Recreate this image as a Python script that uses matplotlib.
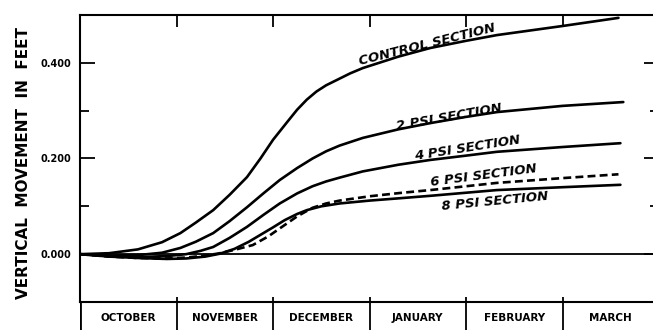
import matplotlib
matplotlib.use("Agg")
import matplotlib.pyplot as plt
from matplotlib.ticker import MultipleLocator, FixedLocator

# Months shown along the bottom band (x is measured in months from Oct 1)
months = ["OCTOBER", "NOVEMBER", "DECEMBER", "JANUARY", "FEBRUARY", "MARCH"]

# Vertical movement (ft) read at points along each section's curve
control_x = [0.0, 0.3, 0.6, 0.85, 1.04, 1.2, 1.38, 1.55, 1.73, 1.87, 2.0, 2.15, 2.25, 2.35,
             2.45, 2.55, 2.69, 2.8, 2.93, 3.3, 3.63, 4.0, 4.32, 5.0, 5.58]
control_y = [0.0, 0.002, 0.010, 0.025, 0.044, 0.066, 0.092, 0.124, 0.161, 0.200, 0.239, 0.277,
             0.302, 0.323, 0.340, 0.353, 0.367, 0.378, 0.389, 0.413, 0.431, 0.446, 0.458,
             0.477, 0.494]

psi2_x = [0.0, 0.3, 0.6, 0.85, 1.04, 1.2, 1.38, 1.55, 1.73, 1.9, 2.07, 2.25, 2.41, 2.55, 2.69,
          2.93, 3.3, 3.63, 4.0, 4.32, 5.0, 5.63]
psi2_y = [0.0, -0.003, -0.002, 0.003, 0.013, 0.026, 0.044, 0.069, 0.098, 0.127, 0.155, 0.180,
          0.200, 0.215, 0.227, 0.243, 0.261, 0.274, 0.287, 0.297, 0.310, 0.318]

psi4_x = [0.0, 0.3, 0.6, 0.9, 1.1, 1.25, 1.38, 1.55, 1.73, 1.9, 2.07, 2.25, 2.41, 2.55, 2.69,
          2.93, 3.3, 3.63, 4.0, 4.32, 5.0, 5.6]
psi4_y = [0.0, -0.004, -0.006, -0.004, 0.000, 0.007, 0.015, 0.034, 0.057, 0.082, 0.106, 0.127,
          0.142, 0.152, 0.160, 0.173, 0.187, 0.197, 0.206, 0.214, 0.224, 0.232]

psi6_x = [0.0, 0.3, 0.6, 0.9, 1.1, 1.3, 1.45, 1.6, 1.79, 1.95, 2.1, 2.25, 2.41, 2.55, 2.69,
          3.0, 3.32, 3.63, 4.0, 4.32, 5.0, 5.58]
psi6_y = [0.0, -0.005, -0.008, -0.009, -0.007, -0.003, 0.002, 0.009, 0.019, 0.037, 0.058,
          0.079, 0.097, 0.106, 0.112, 0.121, 0.128, 0.134, 0.142, 0.149, 0.159, 0.167]

psi8_x = [0.0, 0.3, 0.6, 0.9, 1.1, 1.3, 1.45, 1.6, 1.75, 1.9, 2.0, 2.12, 2.25, 2.35, 2.5,
          2.69, 3.0, 3.32, 3.63, 4.32, 5.0, 5.6]
psi8_y = [0.0, -0.005, -0.008, -0.010, -0.009, -0.005, 0.001, 0.011, 0.026, 0.044, 0.056,
          0.071, 0.084, 0.092, 0.100, 0.106, 0.112, 0.117, 0.122, 0.134, 0.140, 0.145]

# Curve labels: (text, x, y, rotation)
labels = [
    ("CONTROL SECTION", 3.6, 0.437, 14),
    ("2 PSI SECTION", 3.83, 0.287, 10),
    ("4 PSI SECTION", 4.01, 0.222, 9),
    ("6 PSI SECTION", 4.18, 0.165, 7.5),
    ("8 PSI SECTION", 4.3, 0.111, 5.5),
]

W, H = 653, 330
fig = plt.figure(figsize=(W / 100, H / 100), dpi=100)

left_px, right_px, top_px, bottom_px = 80, 659, 15, 302
ax = fig.add_axes([left_px / W, (H - bottom_px) / H,
                   (right_px - left_px) / W, (bottom_px - top_px) / H])
ax.set_xlim(0, 6)
ax.set_ylim(-0.1, 0.5)

lw = 1.9
ax.plot(control_x, control_y, color="black", lw=lw, solid_capstyle="round")
ax.plot(psi2_x, psi2_y, color="black", lw=lw, solid_capstyle="round")
ax.plot(psi4_x, psi4_y, color="black", lw=lw, solid_capstyle="round")
ax.plot(psi6_x, psi6_y, color="black", lw=lw, linestyle=(0, (3.0, 1.6)))
ax.plot(psi8_x, psi8_y, color="black", lw=lw, solid_capstyle="round")
ax.axhline(0, color="black", lw=1.3)

for text, x, y, rot in labels:
    ax.text(x, y, text, rotation=rot, rotation_mode="anchor", ha="center", va="center",
            fontsize=9.5, fontweight="bold", fontstyle="italic", family="DejaVu Sans")

for side in ("left", "top", "bottom", "right"):
    ax.spines[side].set_linewidth(1.5)

ax.yaxis.set_minor_locator(MultipleLocator(0.1))
ax.set_yticks([0.0, 0.2, 0.4])
ax.set_yticklabels(["0.000", "0.200", "0.400"], fontsize=7, fontweight="bold")
ax.tick_params(axis="y", which="major", direction="in", length=11, width=1.3,
               right=True, pad=6)
ax.tick_params(axis="y", which="minor", direction="in", length=6.5, width=1.3, right=True)

# month boundaries: long ticks hanging from the top, short ones standing on the band
ax.xaxis.remove_overlapping_locs = False
ax.xaxis.set_major_locator(FixedLocator([1, 2, 3, 4, 5]))
ax.xaxis.set_minor_locator(FixedLocator([1, 2, 3, 4, 5]))
ax.set_xticklabels([])
ax.tick_params(axis="x", which="major", direction="in", length=8.5, width=1.3,
               top=True, bottom=False, labelbottom=False)
ax.tick_params(axis="x", which="minor", direction="in", length=3.5, width=1.3,
               top=False, bottom=True)

# Month band under the plot
band = fig.add_axes([left_px / W, -30 / H, (right_px - left_px) / W, (30 + H - bottom_px) / H])
band.set_xlim(0, 6)
band.set_ylim(0, 1)
band.axis("off")
band.axvline(0, color="black", lw=2)
for b in range(1, 6):
    band.axvline(b, color="black", lw=1.3)
for i, name in enumerate(months):
    band.text(i + 0.5, (H - 318 + 30) / (30 + H - bottom_px), name, ha="center", va="center",
              fontsize=7.5, fontweight="bold")

fig.text(24 / W, (H - 163) / H, "VERTICAL  MOVEMENT  IN  FEET", rotation=90,
         ha="center", va="center", fontsize=11, fontweight="bold")

fig.savefig("out.png", dpi=100)
